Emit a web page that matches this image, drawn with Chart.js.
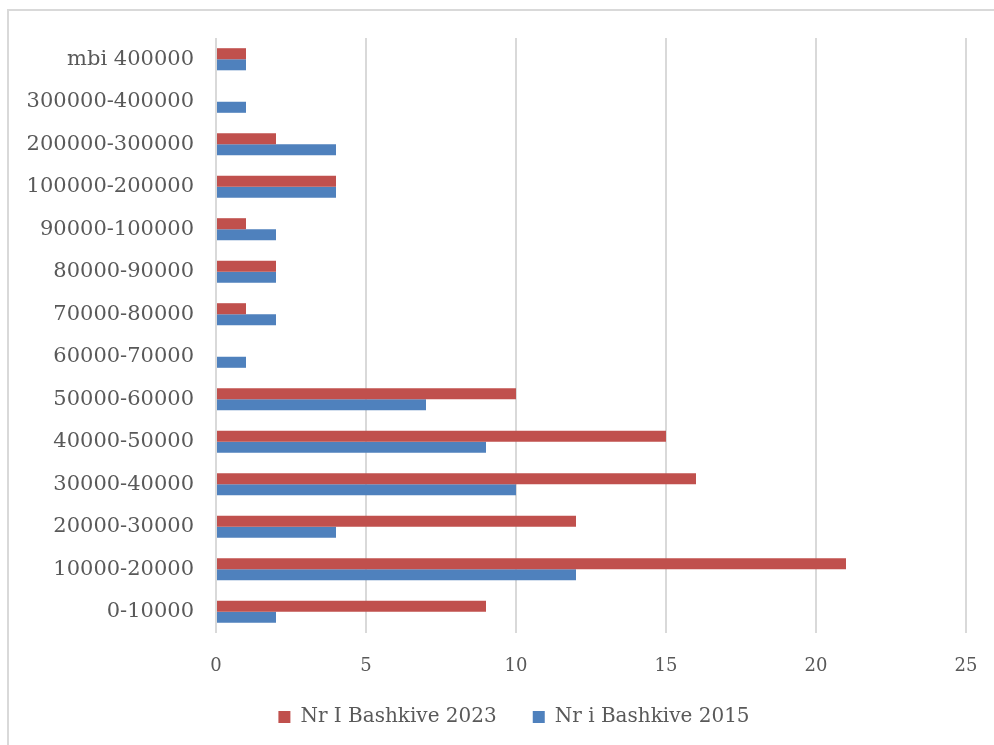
<!DOCTYPE html>
<html>
<head>
<meta charset="utf-8">
<script src="https://cdn.jsdelivr.net/npm/chart.js@4/dist/chart.umd.min.js"></script>
<style>
  html, body { margin: 0; padding: 0; background: #fff; }
  #wrap { position: relative; width: 994px; height: 745px; overflow: hidden; }
  #frame {
    position: absolute; left: 7px; top: 9px; width: 1100px; height: 900px;
    border-left: 2px solid #d9d9d9; border-top: 2px solid #d9d9d9;
  }
  canvas { position: absolute; left: 0; top: 0; }
</style>
</head>
<body>
<div id="wrap">
  <div id="frame"></div>
  <canvas id="chart" width="994" height="745"></canvas>
</div>
<script>
  // Kategoritë (nga lart poshtë)
  const categories = [
    "mbi 400000", "300000-400000", "200000-300000", "100000-200000",
    "90000-100000", "80000-90000", "70000-80000", "60000-70000",
    "50000-60000", "40000-50000", "30000-40000", "20000-30000",
    "10000-20000", "0-10000"
  ];
  const bashkive2023 = [1, 0, 2, 4, 1, 2, 1, 0, 10, 15, 16, 12, 21, 9];
  const bashkive2015 = [1, 1, 4, 4, 2, 2, 2, 1, 7, 9, 10, 4, 12, 2];
  const xTicks = [0, 5, 10, 15, 20, 25];

  const FONT = "'DejaVu Serif', 'Liberation Serif', serif";
  const TXT = "#595959";

  // legjenda ne Excel eshte pak e zhvendosur djathtas
  const legendShift = {
    id: "legendShift",
    afterLayout(chart) {
      const lg = chart.legend;
      if (!lg || lg._shifted) return;
      const orig = lg.draw.bind(lg);
      lg.draw = function (area) {
        const ctx = this.ctx;
        ctx.save();
        ctx.translate(31, 0);
        orig(area);
        ctx.restore();
      };
      lg._shifted = true;
    }
  };

  new Chart(document.getElementById("chart"), {
    type: "bar",
    data: {
      labels: categories,
      datasets: [
        { label: "Nr I Bashkive 2023", data: bashkive2023, backgroundColor: "#c0504d" },
        { label: "Nr i Bashkive 2015", data: bashkive2015, backgroundColor: "#4f81bd" }
      ]
    },
    options: {
      indexAxis: "y",
      responsive: false,
      animation: false,
      categoryPercentage: 0.52,
      barPercentage: 1,
      layout: { padding: { top: 38, right: 28, bottom: 8, left: 0 } },
      scales: {
        x: {
          min: xTicks[0],
          max: xTicks[xTicks.length - 1],
          afterBuildTicks: s => { s.ticks = xTicks.map(v => ({ value: v })); },
          grid: { color: "#d9d9d9", lineWidth: 2, drawTicks: false },
          border: { display: false },
          ticks: { color: TXT, font: { family: FONT, size: 18 }, padding: 23 },
          afterFit: s => { s.height = 38; s.paddingRight = 10; }
        },
        y: {
          grid: { display: false },
          border: { display: false },
          ticks: { color: TXT, font: { family: FONT, size: 21 }, padding: 14 },
          afterFit: s => { s.width = 216; }
        }
      },
      plugins: {
        legend: {
          position: "bottom",
          labels: {
            color: TXT,
            font: { family: FONT, size: 20 },
            boxWidth: 12,
            boxHeight: 12,
            padding: 36
          }
        },
        tooltip: { enabled: false }
      }
    },
    plugins: [legendShift]
  });
</script>
</body>
</html>
